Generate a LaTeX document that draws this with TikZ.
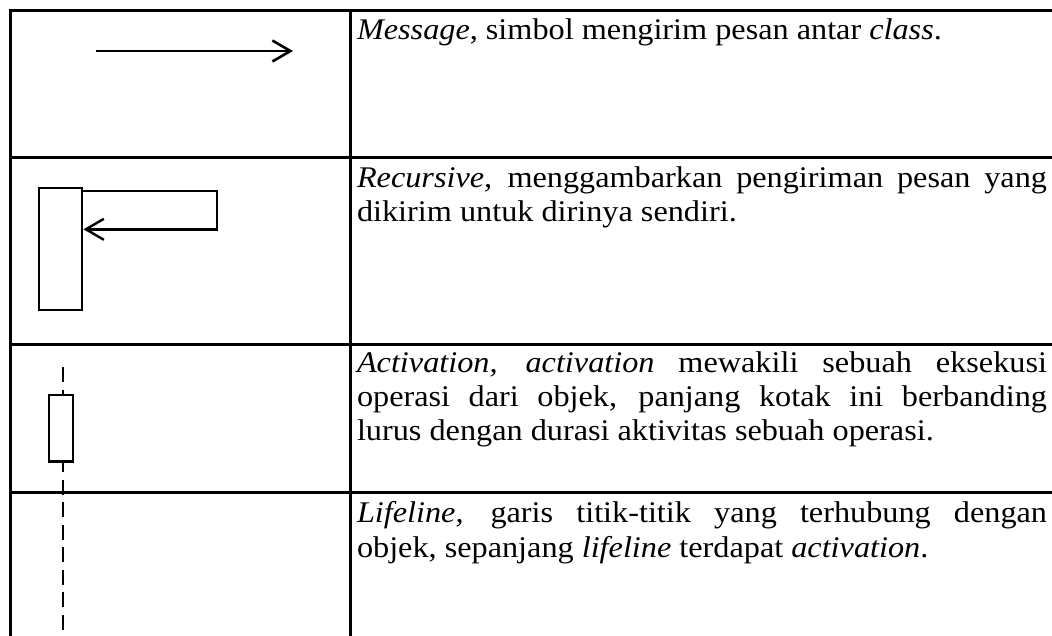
\documentclass[tikz,border=0pt]{standalone}
\usepackage{fontspec}
\setmainfont{Liberation Serif}[FakeStretch=1.075]
\usetikzlibrary{arrows.meta}
\tikzset{
  grid/.style={line width=3pt, line cap=rect},
  sym/.style={line width=2.3pt},
  msg/.style={line width=2.6pt, -{Straight Barb[length=18pt,width=21pt]}},
  txt/.style={anchor=base west, inner sep=0pt, outer sep=0pt},
  lifel/.style={line width=2.3pt, dash pattern=on 15pt off 7.5pt}
}
\newcommand{\jline}[1]{\makebox[690pt][s]{#1}}
\begin{document}
\begin{tikzpicture}[x=1pt,y=-1pt]
\useasboundingbox (0,0) rectangle (1052,635);
\fontsize{30pt}{34.5pt}\selectfont
% table
\draw[grid] (1053,10) -- (10,10) -- (10,636);
\draw[grid] (350,10) -- (350,636);
\draw[grid] (10,157) -- (1053,157);
\draw[grid] (10,344) -- (1053,344);
\draw[grid] (10,492) -- (1053,492);
% row 1: message
\coordinate (m1) at (96,51);
\coordinate (m2) at (293,51);
\draw[msg] (m1) -- (m2);
% row 2: recursive
\draw[sym] (39,188) rectangle (81.7,310);
\coordinate (r1) at (81.7,190.7);
\coordinate (r2) at (216.7,190.7);
\coordinate (r3) at (216.7,229.3);
\coordinate (r4) at (83.5,229.3);
\draw[msg, line width=2.4pt] (r1) -- (r2) -- (r3) -- (r4);
% row 3 & 4: lifeline and activation
\coordinate (l1) at (63,367);
\coordinate (l2) at (63,630);
\draw[lifel] (l1) -- (l2);
\draw[sym, fill=white] (49,395) rectangle (73.3,461.5);
% texts
\node[txt] (t1) at (357,39) {\textit{Message}, simbol mengirim pesan antar \textit{class}.};
\node[txt] (t2a) at (357,187) {\jline{\textit{Recursive,} menggambarkan pengiriman pesan yang}};
\node[txt] (t2b) at (357,221) {dikirim untuk dirinya sendiri.};
\node[txt] (t3a) at (357,372) {\jline{\textit{Activation, activation} mewakili sebuah eksekusi}};
\node[txt] (t3b) at (357,406) {\jline{operasi dari objek, panjang kotak ini berbanding}};
\node[txt] (t3c) at (357,440) {lurus dengan durasi aktivitas sebuah operasi.};
\node[txt] (t4a) at (357,522) {\jline{\textit{Lifeline,} garis titik-titik yang terhubung dengan}};
\node[txt] (t4b) at (357,557) {objek, sepanjang \textit{lifeline} terdapat \textit{activation}.};
\end{tikzpicture}
\end{document}
